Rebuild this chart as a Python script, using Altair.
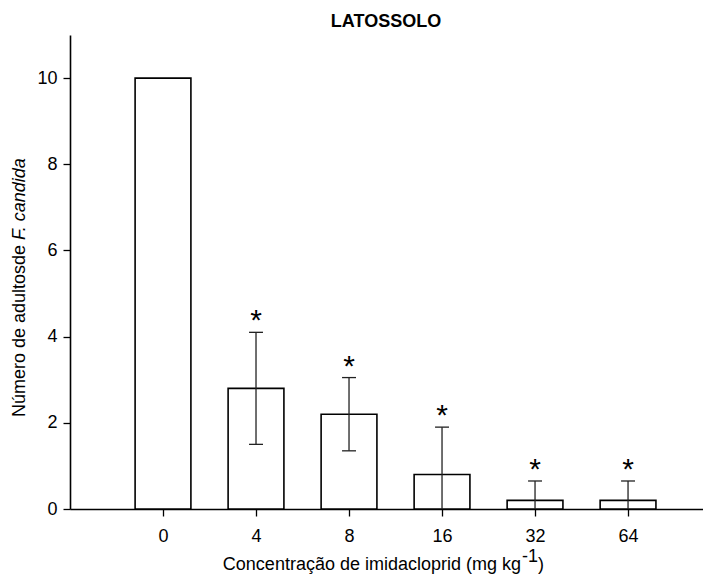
import altair as alt
import pandas as pd

# ---- data ----
conc_labels = ["0", "4", "8", "16", "32", "64"]
means = [10.0, 2.8, 2.2, 0.8, 0.2, 0.2]
errors = [0.0, 1.3, 0.85, 1.1, 0.45, 0.45]
stars = ["", "*", "*", "*", "*", "*"]

rows = []
for i, (lab, m, e, s) in enumerate(zip(conc_labels, means, errors, stars)):
    rows.append({"pos": i + 1, "label": lab, "mean": m, "err": e, "star": s})
df = pd.DataFrame(rows)

FONT = "Liberation Sans"
BAR_HALF = 0.3
CAP_HALF = 0.075

xscale = alt.Scale(domain=[0, 6.806], nice=False, zero=False)
yscale = alt.Scale(domain=[0, 11], nice=False)

label_expr = "[" + ",".join("'" + l + "'" for l in conc_labels) + "][datum.value - 1]"

base = alt.Chart(df).transform_calculate(
    xl=f"datum.pos - {BAR_HALF}",
    xr=f"datum.pos + {BAR_HALF}",
    cl=f"datum.pos - {CAP_HALF}",
    cr=f"datum.pos + {CAP_HALF}",
    hi="datum.mean + datum.err",
    lo="max(0, datum.mean - datum.err)",
)

bars = base.mark_bar(fill="white", stroke="black", strokeWidth=1.6).encode(
    x=alt.X("xl:Q", scale=xscale,
            axis=alt.Axis(values=[1, 2, 3, 4, 5, 6], labelExpr=label_expr,
                          title=None, grid=False, tickSize=7, labelPadding=11,
                          domainColor="black", domainWidth=1.6, tickColor="black",
                          tickWidth=1.3, labelFont=FONT, labelFontSize=18,
                          labelColor="black")),
    x2="xr:Q",
    y=alt.Y("mean:Q", scale=yscale,
            axis=alt.Axis(values=[0, 2, 4, 6, 8, 10], title=None, grid=False,
                          tickSize=7, labelPadding=6, domainColor="black",
                          domainWidth=1.6, tickColor="black", tickWidth=1.3,
                          labelFont=FONT, labelFontSize=18, labelColor="black")),
    y2=alt.datum(0),
)

err = base.transform_filter("datum.err > 0")

err_line = err.mark_rule(color="#222", strokeWidth=1.3).encode(
    x=alt.X("pos:Q", scale=xscale), y=alt.Y("lo:Q", scale=yscale), y2="hi:Q"
)
cap_top = err.mark_rule(color="#222", strokeWidth=1.3).encode(
    x=alt.X("cl:Q", scale=xscale), x2="cr:Q", y=alt.Y("hi:Q", scale=yscale)
)
cap_bot = err.transform_filter("datum.mean - datum.err > 0").mark_rule(
    color="#222", strokeWidth=1.3).encode(
    x=alt.X("cl:Q", scale=xscale), x2="cr:Q", y=alt.Y("lo:Q", scale=yscale)
)
star_txt = err.mark_text(font=FONT, fontSize=30, color="black", baseline="alphabetic",
                         dy=-2).encode(
    x=alt.X("pos:Q", scale=xscale), y=alt.Y("hi:Q", scale=yscale), text="star:N"
)

one = alt.Chart(pd.DataFrame({"a": [0]}))

title_txt = one.mark_text(text="LATOSSOLO", font=FONT, fontSize=18, fontWeight="bold",
                          color="black", align="center", baseline="alphabetic").encode(
    x=alt.value(316), y=alt.value(-8))

xt_main = one.mark_text(text="Concentração de imidacloprid (mg kg", font=FONT, fontSize=18,
                        color="black", align="right", baseline="alphabetic").encode(
    x=alt.value(451), y=alt.value(535))
xt_sup = one.mark_text(text="-1", font=FONT, fontSize=18, color="black", align="left",
                       baseline="alphabetic").encode(x=alt.value(452), y=alt.value(527))
xt_close = one.mark_text(text=")", font=FONT, fontSize=18, color="black", align="left",
                         baseline="alphabetic").encode(x=alt.value(468), y=alt.value(535))

yt_main = one.mark_text(text="Número de adultosde", font=FONT, fontSize=18, color="black",
                        align="right", baseline="alphabetic", angle=270).encode(
    x=alt.value(-45), y=alt.value(210))
yt_ital = one.mark_text(text="F. candida", font=FONT, fontSize=18, fontStyle="italic",
                        color="black", align="left", baseline="alphabetic", angle=270).encode(
    x=alt.value(-45), y=alt.value(205))

chart = alt.layer(
    bars, err_line, cap_top, cap_bot, star_txt,
    title_txt, xt_main, xt_sup, xt_close, yt_main, yt_ital,
).properties(
    width=633, height=474,
    autosize=alt.AutoSizeParams(type="none"),
    padding={"left": 62, "top": 27, "right": 0, "bottom": 65},
).configure(background="white").configure_view(stroke=None, strokeWidth=0)

chart.save("out.html", embed_options={"renderer": "svg", "actions": False})
